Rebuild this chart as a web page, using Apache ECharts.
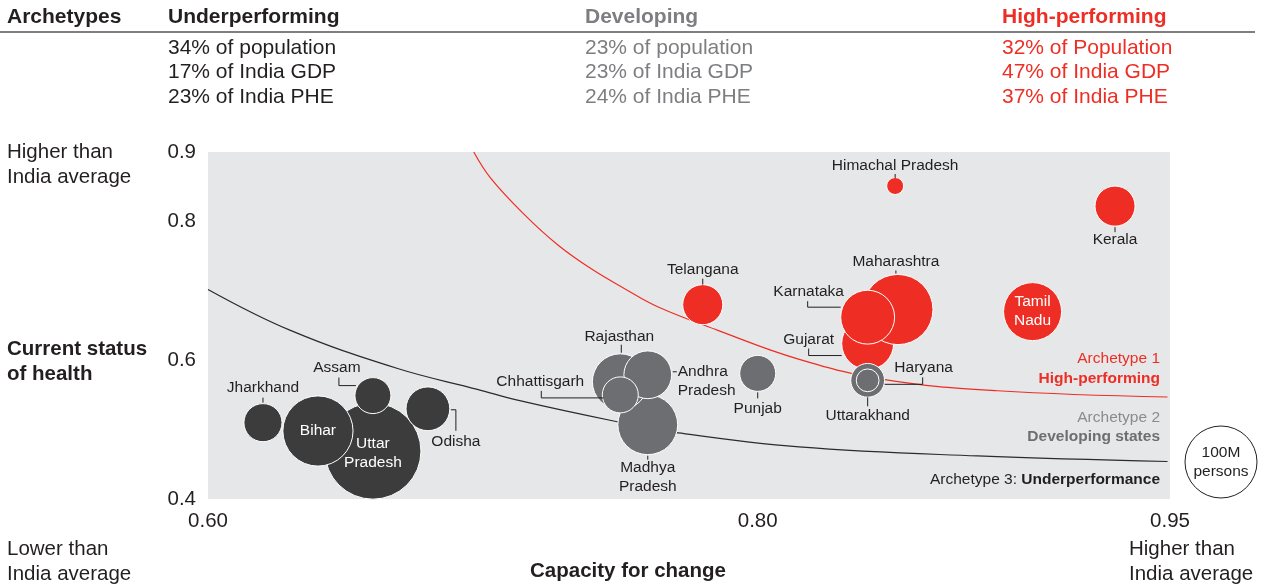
<!DOCTYPE html>
<html>
<head>
<meta charset="utf-8">
<script src="https://cdn.jsdelivr.net/npm/echarts@6/dist/echarts.min.js"></script>
<style>
  html, body { margin: 0; padding: 0; background: #fff; }
  #chart { width: 1264px; height: 586px; }
</style>
</head>
<body>
<div id="chart"></div>
<script>
// states, in drawing order (later ones sit on top)
const states = ['Uttar Pradesh', 'Bihar', 'Jharkhand', 'Assam', 'Odisha',
  'Madhya Pradesh', 'Rajasthan', 'Andhra Pradesh', 'Chhattisgarh', 'Punjab',
  'Gujarat', 'Maharashtra', 'Karnataka', 'Telangana', 'Himachal Pradesh', 'Kerala', 'Tamil Nadu',
  'Haryana', 'Uttarakhand']
// 1 = high-performing, 2 = developing, 3 = underperforming
const archetype = [3, 3, 3, 3, 3, 2, 2, 2, 2, 2, 1, 1, 1, 1, 1, 1, 1, 2, 2]
const capacity = [0.660, 0.640, 0.620, 0.660, 0.680, 0.760, 0.750, 0.760, 0.750, 0.800,
  0.840, 0.851, 0.840, 0.780, 0.850, 0.930, 0.900, 0.840, 0.840]
const health = [0.469, 0.498, 0.510, 0.549, 0.530, 0.507, 0.569, 0.579, 0.550, 0.581,
  0.624, 0.673, 0.662, 0.680, 0.851, 0.822, 0.670, 0.571, 0.571]
// population, millions
const population = [178, 95, 28, 25, 37, 69, 60, 44, 25, 25, 52, 95, 56, 31, 5.6, 31, 65, 22, 10]

// archetype boundary curves [capacity, health]
const highCurve = [[0.6967, 0.900], [0.7029, 0.862], [0.7153, 0.809], [0.7273, 0.766], [0.7393, 0.732],
  [0.7516, 0.703], [0.7636, 0.677], [0.7855, 0.643], [0.8145, 0.602], [0.8462, 0.572],
  [0.8873, 0.556], [0.9491, 0.547]]
const lowCurve = [[0.600, 0.702], [0.630, 0.643], [0.669, 0.588], [0.698, 0.558], [0.713, 0.542],
  [0.748, 0.512], [0.770, 0.496], [0.815, 0.475], [0.880, 0.462], [0.9491, 0.454]]

const xTicks = [0.60, 0.80, 0.95]
const yTicks = [0.4, 0.6, 0.8, 0.9]

const headerCols = ['Underperforming', 'Developing', 'High-performing']
const headerStats = [
  ['34% of population', '17% of India GDP', '23% of India PHE'],
  ['23% of population', '23% of India GDP', '24% of India PHE'],
  ['32% of Population', '47% of India GDP', '37% of India PHE']
]

const FONT = '"Liberation Sans", Arial, Helvetica, sans-serif'
const TXT = '#231f20'
const RED = '#ee2e24'
const GRAY = '#6d6e71'
const DARK = '#3c3c3d'
const colors = { 1: RED, 2: GRAY, 3: DARK }
const BIG = '20.5px '
const SMALL = '15.5px '

// bubble diameter from population (100M -> 72px)
function bubbleSize (pop) { return 72 * Math.sqrt(pop / 100) }

// label placement relative to the bubble centre (pixels)
const labelLayout = {
  'Uttar Pradesh': { text: 'Uttar\nPradesh', dx: 0, dy: 2, inside: true },
  'Bihar': { text: 'Bihar', dx: 0, dy: 0, inside: true },
  'Tamil Nadu': { text: 'Tamil\nNadu', dx: 0, dy: 0, inside: true },
  'Jharkhand': { dx: 0, dy: -35, line: [[0, -25], [0, -20]] },
  'Assam': { dx: -36, dy: -28, line: [[-34, -18], [-34, -10], [-17, -10]] },
  'Odisha': { dx: 28, dy: 33, line: [[23, 1], [28, 1], [28, 22]] },
  'Rajasthan': { dx: -1, dy: -45, line: [[1, -37], [1, -29]] },
  'Andhra Pradesh': { text: 'Andhra\nPradesh', dx: 30, dy: 6, align: 'left', line: [[25, -3], [29, -3]] },
  'Chhattisgarh': { dx: -80, dy: -13, line: [[-79, -4], [-79, 3], [-17, 3]] },
  'Madhya Pradesh': { text: 'Madhya\nPradesh', dx: 0, dy: 52, line: [[0, 31], [0, 35]] },
  'Punjab': { dx: 0, dy: 35, line: [[0, 19], [0, 25]] },
  'Haryana': { dx: 56, dy: -13, line: [[17, 4], [55, 4], [55, -3]] },
  'Uttarakhand': { dx: 0, dy: 35, line: [[0, 17], [0, 26]] },
  'Gujarat': { dx: -59, dy: -4, line: [[-59, 5], [-59, 12], [-26, 12]] },
  'Karnataka': { dx: -59, dy: -25, line: [[-60, -16], [-60, -10], [-27, -10]] },
  'Maharashtra': { dx: -2, dy: -48, line: [[-2, -39], [-2, -36]] },
  'Telangana': { dx: 0, dy: -35, line: [[0, -26], [0, -20]] },
  'Himachal Pradesh': { dx: 0, dy: -20, line: [[0, -12], [0, -8]] },
  'Kerala': { dx: 0, dy: 34, line: [[0, 21], [0, 26]] }
}

const bubbleData = states.map((s, i) => ({
  name: s,
  value: [capacity[i], health[i], population[i]],
  itemStyle: { color: colors[archetype[i]] }
}))
const labelData = states.map((s, i) => [capacity[i], health[i], i])

function near (a, list) { return list.some(t => Math.abs(t - a) < 1e-6) }

// header and side texts
const graphics = []
function addText (x, y, text, opts) {
  graphics.push({
    type: 'text',
    x: x,
    y: y,
    silent: true,
    style: Object.assign({
      text: text,
      font: BIG + FONT,
      fill: TXT,
      align: 'left',
      verticalAlign: 'middle',
      lineHeight: 25
    }, opts || {})
  })
}
const colX = [168, 585, 1002]
const colColor = [TXT, '#7d7e81', RED]
addText(7, 17, 'Archetypes', { font: 'bold 21px ' + FONT })
headerCols.forEach((h, i) => {
  addText(colX[i], 17, h, { font: 'bold 21px ' + FONT, fill: colColor[i] })
  headerStats[i].forEach((t, j) => addText(colX[i], 48 + j * 24.5, t, { font: '21px ' + FONT, fill: colColor[i] }))
})
graphics.push({
  type: 'line',
  silent: true,
  shape: { x1: 0, y1: 32, x2: 1255, y2: 32 },
  style: { stroke: '#555', lineWidth: 1.5 }
})
addText(7, 165, 'Higher than\nIndia average')
addText(7, 362, 'Current status\nof health', { font: 'bold ' + BIG + FONT })
addText(7, 562, 'Lower than\nIndia average')
addText(1129, 562, 'Higher than\nIndia average')
addText(628, 571, 'Capacity for change', { font: 'bold ' + BIG + FONT, align: 'center' })

// archetype notes inside the plot
addText(1160, 359, 'Archetype 1', { font: SMALL + FONT, fill: RED, align: 'right' })
addText(1160, 379, 'High-performing', { font: 'bold ' + SMALL + FONT, fill: RED, align: 'right' })
addText(1160, 418, 'Archetype 2', { font: SMALL + FONT, fill: '#8a8b8d', align: 'right' })
addText(1160, 437, 'Developing states', { font: 'bold ' + SMALL + FONT, fill: GRAY, align: 'right' })
addText(1160, 480, '{a|Archetype 3: }{b|Underperformance}', {
  align: 'right',
  rich: {
    a: { font: SMALL + FONT, fill: TXT },
    b: { font: 'bold ' + SMALL + FONT, fill: TXT }
  }
})

// size key
graphics.push({
  type: 'circle',
  silent: true,
  shape: { cx: 1221, cy: 462, r: bubbleSize(100) / 2 },
  style: { fill: '#fff', stroke: TXT, lineWidth: 1 }
})
addText(1221, 462, '100M\npersons', { font: SMALL + FONT, align: 'center', lineHeight: 19 })

const chart = echarts.init(document.getElementById('chart'))
chart.setOption({
  animation: false,
  textStyle: { fontFamily: FONT },
  grid: {
    left: 208,
    right: 94,
    top: 152,
    bottom: 87,
    show: true,
    backgroundColor: '#e6e7e8',
    borderWidth: 0
  },
  xAxis: {
    type: 'value',
    min: 0.6,
    max: 0.95,
    interval: 0.05,
    axisLine: { show: false },
    axisTick: { show: false },
    splitLine: { show: false },
    axisLabel: {
      margin: 12,
      fontSize: 20.5,
      color: TXT,
      showMinLabel: true,
      showMaxLabel: true,
      formatter: v => near(v, xTicks) ? v.toFixed(2) : ''
    }
  },
  yAxis: {
    type: 'value',
    min: 0.4,
    max: 0.9,
    interval: 0.1,
    axisLine: { show: false },
    axisTick: { show: false },
    splitLine: { show: false },
    axisLabel: {
      margin: 12,
      fontSize: 20.5,
      color: TXT,
      showMinLabel: true,
      showMaxLabel: true,
      formatter: v => near(v, yTicks) ? v.toFixed(1) : ''
    }
  },
  series: [
    {
      type: 'line',
      data: lowCurve,
      smooth: 0.4,
      symbol: 'none',
      clip: true,
      z: 1,
      lineStyle: { color: '#2b2b2b', width: 1.2 }
    },
    {
      type: 'line',
      data: highCurve,
      smooth: 0.4,
      symbol: 'none',
      clip: true,
      z: 1,
      lineStyle: { color: RED, width: 1.2 }
    },
    {
      type: 'scatter',
      data: bubbleData,
      z: 2,
      symbolSize: v => bubbleSize(v[2]),
      itemStyle: { borderColor: '#fff', borderWidth: 1, opacity: 1 }
    },
    {
      type: 'custom',
      data: labelData,
      z: 3,
      clip: false,
      silent: true,
      encode: { x: 0, y: 1 },
      renderItem: (params, api) => {
        const c = api.coord([api.value(0), api.value(1)])
        const name = states[api.value(2)]
        const L = labelLayout[name]
        const children = []
        if (L.line) {
          children.push({
            type: 'polyline',
            shape: { points: L.line.map(p => [c[0] + p[0], c[1] + p[1]]) },
            style: { stroke: TXT, lineWidth: 1, fill: null }
          })
        }
        children.push({
          type: 'text',
          x: c[0] + L.dx,
          y: c[1] + L.dy,
          style: {
            text: L.text || name,
            font: SMALL + FONT,
            fill: L.inside ? '#fff' : TXT,
            align: L.align || 'center',
            verticalAlign: 'middle',
            textAlign: L.align || 'center',
            textVerticalAlign: 'middle',
            lineHeight: 19
          }
        })
        return { type: 'group', children: children }
      }
    }
  ],
  graphic: graphics
})
</script>
</body>
</html>
